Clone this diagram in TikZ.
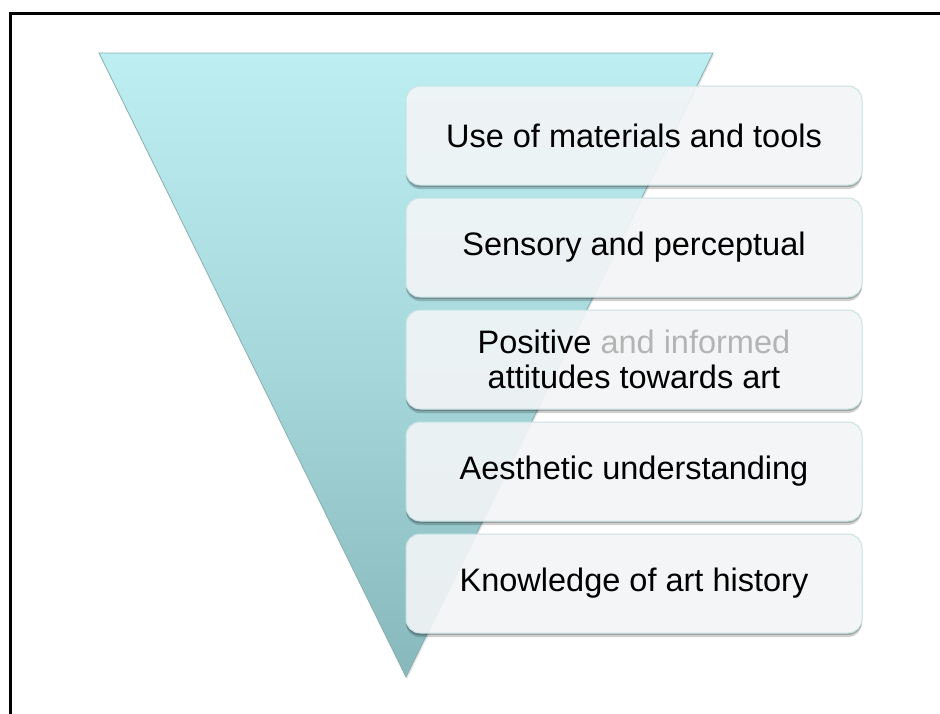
\documentclass[tikz,border=0pt]{standalone}
\usepackage{fontspec}
\setmainfont{Liberation Sans}
\definecolor{triTop}{HTML}{BCEEF2}
\definecolor{triMid}{HTML}{A6D7DB}
\definecolor{triBot}{HTML}{86B8BC}
\definecolor{triEdge}{HTML}{8AAFB2}
\definecolor{boxFill}{HTML}{F3F5F6}
\definecolor{boxEdge}{HTML}{C9E2E5}
\definecolor{lightTxt}{HTML}{B4B4B4}
\tikzset{
  itembox/.style={draw=boxEdge, line width=1pt, fill=boxFill, fill opacity=0.9,
    text opacity=1, rounded corners=14pt, minimum width=456pt, minimum height=99pt,
    inner sep=0pt, align=center, text=black,
    font=\fontsize{32.5}{35}\selectfont},
  frame/.style={draw=black, line width=3pt},
  boxshadow/.style={fill=black, even odd rule, rounded corners=14pt}
}
\begin{document}
\begin{tikzpicture}[x=1pt,y=-1pt]
\useasboundingbox (0,0) rectangle (940,713);
\clip (0,0) rectangle (940,713);
\fill[white] (0,0) rectangle (940,713);
% outer frame (right and bottom edges lie beyond the picture)
\draw[frame] (10.5,13.5) rectangle (980,760);
% funnel triangle
\coordinate (tl) at (99,53);
\coordinate (tr) at (713,53);
\coordinate (ap) at (406,677);
\fill[black, opacity=0.10] ([xshift=1pt,yshift=-2pt]tl) -- ([xshift=1pt,yshift=-2pt]tr) -- ([xshift=1pt,yshift=-2pt]ap) -- cycle;
\shade[top color=triTop, bottom color=triBot, middle color=triMid] (tl) -- (tr) -- (ap) -- cycle;
\draw[triEdge, line width=0.8pt, line join=miter] (tl) -- (tr) -- (ap) -- cycle;
% shadows below the boxes
\foreach \cy in {135.5,247.5,359.5,471.5,583.5}{
  \begin{scope}
    \clip (0,\cy) rectangle (940,713);
    \fill[boxshadow, opacity=0.18] (406,\cy-49.5+4) rectangle (862,\cy+49.5+4) (406,\cy-49.5) rectangle (862,\cy+49.5);
    \fill[boxshadow, opacity=0.22] (406,\cy-49.5+2) rectangle (862,\cy+49.5+2) (406,\cy-49.5) rectangle (862,\cy+49.5);
  \end{scope}
}
% boxes
\node[itembox] (b1) at (634,135.5) {Use of materials and tools};
\node[itembox] (b2) at (634,247.5) {Sensory and perceptual};
\node[itembox] (b3) at (634,359.5) {Positive {\color{lightTxt}and informed}\\attitudes towards art};
\node[itembox] (b4) at (634,471.5) {Aesthetic understanding};
\node[itembox] (b5) at (634,583.5) {Knowledge of art history};
\end{tikzpicture}
\end{document}
